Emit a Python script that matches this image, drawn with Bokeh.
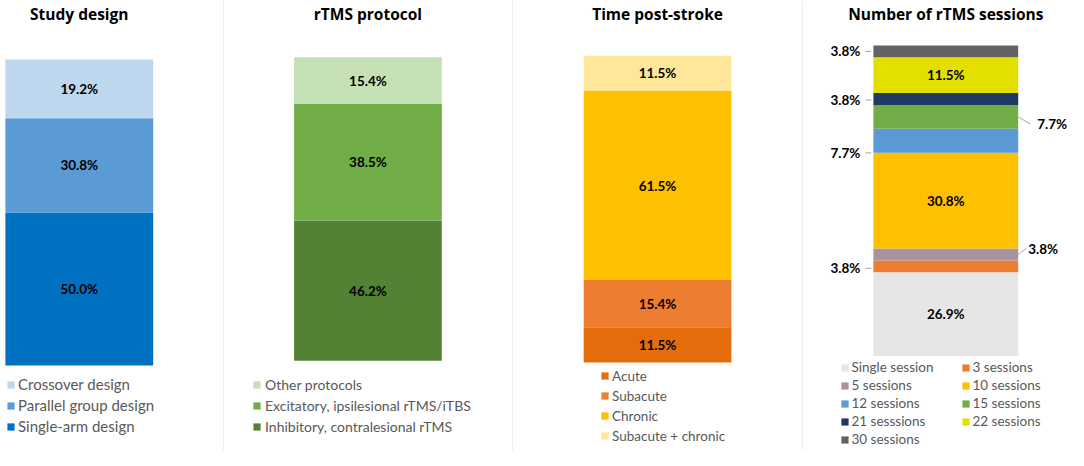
import numpy as np
from bokeh.plotting import figure
from bokeh.layouts import row
from bokeh.models import Range1d, Legend, LegendItem, Span, ColumnDataSource
from bokeh.core.properties import value
from bokeh.embed import file_html
from bokeh.resources import INLINE

# ---------------- data ----------------
design_titles = "Study design"
design_cats = ["Single-arm design", "Parallel group design", "Crossover design"]
design_vals = [50.0, 30.8, 19.2]

protocol_title = "rTMS protocol"
protocol_cats = ["Inhibitory, contralesional rTMS", "Excitatory, ipsilesional rTMS/iTBS", "Other protocols"]
protocol_vals = [46.2, 38.5, 15.4]

time_title = "Time post-stroke"
time_cats = ["Acute", "Subacute", "Chronic", "Subacute + chronic"]
time_vals = [11.5, 15.4, 61.5, 11.5]

session_title = "Number of rTMS sessions"
session_cats = ["Single session", "3 sessions", "5 sessions", "10 sessions", "12 sessions",
                "15 sessions", "21 sesssions", "22 sessions", "30 sessions"]
session_vals = [26.9, 3.8, 3.8, 30.8, 7.7, 7.7, 3.8, 11.5, 3.8]

# ---------------- styles ----------------
design_colors = ["#0070C0", "#5B9BD5", "#BDD7EE"]
protocol_colors = ["#548235", "#70AD47", "#C5E0B4"]
time_colors = ["#E46C0A", "#ED7D31", "#FFC000", "#FFE699"]
session_colors = ["#E7E6E6", "#ED7D31", "#A8949E", "#FFC000", "#5B9BD5",
                  "#70AD47", "#203864", "#E3E000", "#636363"]

# label placement for the sessions panel: side, vertical shift (px), leader length, text gap
session_side = ["in", "left", "right", "in", "left", "right", "left", "in", "left"]
session_dy = [0, 2, -6, 0, 12, 7, 1, 0, 0]
session_lead = [0, 8, 8, 0, 8, 12, 8, 0, 8]
session_gap = [0, 13, 10, 0, 13, 19, 13, 0, 13]

H = 450
FONT = "Lato"
TITLE_FONT = "Open Sans"


def make_panel(title, cats, vals, colors, lay, legend_groups, sides=None, dys=None,
               leads=None, gaps=None, separator=True):
    W = lay["w"]
    bl, br, bt, bb = lay["bar"]
    xu = 1.0 / (br - bl)
    yu = 100.0 / (bb - bt)
    xs = -0.5 - bl * xu
    p = figure(width=W, height=H, x_range=Range1d(xs, xs + W * xu),
               y_range=Range1d(-(H - bb) * yu, 100 + bt * yu),
               output_backend="svg", toolbar_location=None,
               x_axis_location=None, y_axis_location=None,
               min_border=0, outline_line_color=None,
               background_fill_color="white", border_fill_color="white")
    p.xgrid.grid_line_color = None
    p.ygrid.grid_line_color = None

    src = ColumnDataSource({"x": [0], **{c: [v] for c, v in zip(cats, vals)}})
    rends = p.vbar_stack(cats, x="x", width=1, source=src,
                         fill_color=colors, line_color=None)

    v = np.array(vals, dtype=float)
    tops = np.cumsum(v)
    mids = tops - v / 2
    n = len(cats)
    if sides is None:
        sides = ["in"] * n
        dys = [0] * n
        leads = [0] * n
        gaps = [0] * n

    inside = [i for i in range(n) if sides[i] == "in"]
    p.text(x=[0] * len(inside), y=[mids[i] for i in inside],
           text=[f"{vals[i]:.1f}%" for i in inside],
           text_font=value(FONT), text_font_style="bold", text_font_size="13.5px",
           text_align="center", text_baseline="middle", text_color="#000000")

    for side in ("left", "right"):
        idx = [i for i in range(n) if sides[i] == side]
        if not idx:
            continue
        sgn = -1 if side == "left" else 1
        edge = 0.5 * sgn
        ly = [mids[i] - dys[i] * yu for i in idx]
        p.text(x=[edge + sgn * gaps[i] * xu for i in idx], y=ly,
               text=[f"{vals[i]:.1f}%" for i in idx],
               text_font=value(FONT), text_font_style="bold", text_font_size="13.5px",
               text_align="right" if side == "left" else "left",
               text_baseline="middle", text_color="#000000")
        if side == "left":
            p.segment(x0=[edge - leads[i] * xu for i in idx], y0=ly,
                      x1=[edge - 2 * xu for i in idx], y1=ly,
                      line_color="#A6A6A6", line_width=1)
        else:
            p.segment(x0=[edge for i in idx], y0=[mids[i] for i in idx],
                      x1=[edge + leads[i] * xu for i in idx], y1=ly,
                      line_color="#A6A6A6", line_width=1)

    # title
    p.text(x=[0], y=[100 + (bt - 13.5) * yu], text=[title],
           text_font=value(TITLE_FONT), text_font_style="bold", text_font_size="15.5px",
           text_align="center", text_baseline="middle", text_color="#000000")

    # legends
    for (lx, first_c, order, sp, standoff, fsize, item_h) in legend_groups:
        k = len(order)
        bottom = first_c - item_h / 2 + k * item_h + (k - 1) * sp
        leg = Legend(items=[LegendItem(label=cats[i], renderers=[rends[i]]) for i in order],
                     location=(lx, H - bottom), orientation="vertical",
                     glyph_width=9, glyph_height=9, label_height=item_h,
                     label_standoff=standoff, spacing=sp, padding=0, margin=0,
                     background_fill_alpha=0, border_line_color=None,
                     label_text_font=FONT, label_text_font_size=fsize,
                     label_text_color="#595959", label_text_baseline="middle")
        p.add_layout(leg)

    if separator:
        p.add_layout(Span(location=xs + (W - 0.5) * xu, dimension="height",
                          line_color="#D9D9D9", line_width=1))
    return p


p1 = make_panel(design_titles, design_cats, design_vals, design_colors,
                {"w": 224, "bar": (4.9, 152.7, 58.9, 365.0)},
                [(6, 384.3, [2, 1, 0], 3, 3, "15px", 18)])
p2 = make_panel(protocol_title, protocol_cats, protocol_vals, protocol_colors,
                {"w": 289, "bar": (69.6, 217.3, 57.0, 360.2)},
                [(28, 384.3, [2, 1, 0], 4, 4, "14px", 17)])
p3 = make_panel(time_title, time_cats, time_vals, time_colors,
                {"w": 290, "bar": (70.2, 217.9, 55.0, 362.1)},
                [(87, 375.7, [0, 1, 2, 3], 3, 3, "13.5px", 17)])
p4 = make_panel(session_title, session_cats, session_vals, session_colors,
                {"w": 265, "bar": (69.9, 214.7, 44.4, 355.4)},
                [(36.5, 367.0, [0, 2, 4, 6, 8], 2, 3, "13.5px", 16),
                 (157.5, 367.0, [1, 3, 5, 7], 2, 3, "13.5px", 16)],
                sides=session_side, dys=session_dy, leads=session_lead, gaps=session_gap,
                separator=False)

layout = row(p1, p2, p3, p4, spacing=0)
open("out.html", "w").write(file_html(layout, INLINE))
